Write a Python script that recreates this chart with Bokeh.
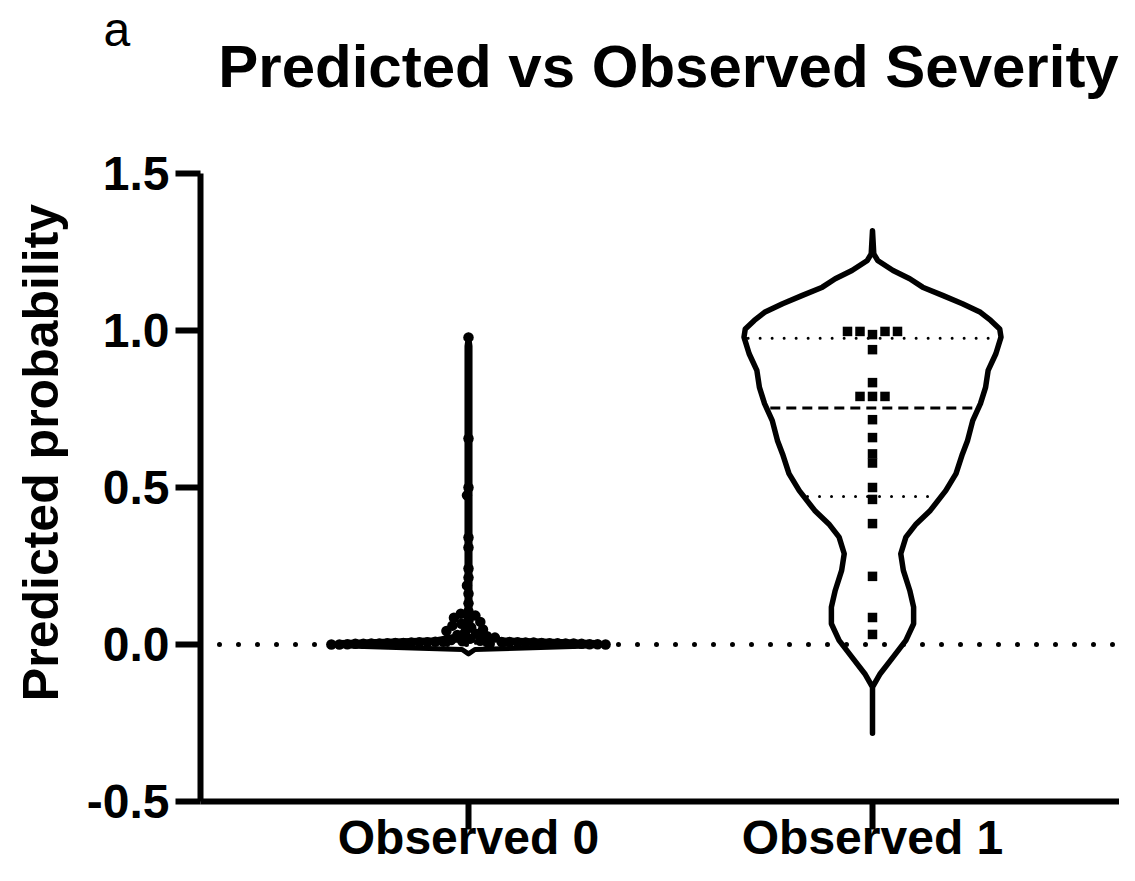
import math
import numpy as np
from bokeh.plotting import figure
from bokeh.models import Range1d, FixedTicker, Label
from bokeh.embed import file_html
from bokeh.resources import INLINE

# ---------------- data ----------------
categories = ["Observed 0", "Observed 1"]
y_ticks = [-0.5, 0.0, 0.5, 1.0, 1.5]
y_tick_labels = ["-0.5", "0.0", "0.5", "1.0", "1.5"]

# predicted probabilities, group "Observed 0" (listed from high to low)
obs0_values = [
    0.978, 0.656, 0.500, 0.475, 0.341, 0.309, 0.242, 0.213, 0.188, 0.162, 0.131,
    0.105, 0.098, 0.092, 0.085, 0.078, 0.072, 0.066, 0.060, 0.054, 0.048,
    0.043, 0.038, 0.034, 0.030, 0.026, 0.022, 0.018, 0.014, 0.012,
    0.010, 0.009, 0.009, 0.008, 0.008, 0.007, 0.007, 0.007, 0.006, 0.006,
    0.006, 0.005, 0.005, 0.005, 0.004, 0.004, 0.004, 0.003,
    0.003, 0.003, 0.003, 0.002, 0.002, 0.002, 0.002, 0.001, 0.001,
    0.001, 0.000, 0.000, 0.000,
]

# predicted probabilities, group "Observed 1"
obs1_values = [
    0.987, 0.997, 0.997, 0.997, 0.997, 0.939, 0.834, 0.790, 0.790, 0.790,
    0.716, 0.659, 0.607, 0.578, 0.500, 0.462, 0.385, 0.217, 0.086, 0.032,
]

# violin outlines: probability level and relative density (1 = widest)
violin1_y = [1.318, 1.244, 1.223, 1.191, 1.165, 1.138, 1.111, 1.085, 1.058, 1.032,
             1.005, 0.979, 0.926, 0.873, 0.819, 0.767, 0.713, 0.650, 0.607, 0.544,
             0.490, 0.427, 0.384, 0.342, 0.289, 0.236, 0.172, 0.119, 0.066, 0.013,
             -0.040, -0.093, -0.136, -0.283]
violin1_density = [0.00, 0.01, 0.04, 0.16, 0.29, 0.39, 0.55, 0.70, 0.84, 0.92,
                   0.99, 1.00, 0.96, 0.90, 0.88, 0.84, 0.78, 0.74, 0.70, 0.65,
                   0.57, 0.45, 0.34, 0.26, 0.22, 0.24, 0.29, 0.32, 0.32, 0.26,
                   0.16, 0.06, 0.00, 0.00]

violin0_y = [0.985, 0.95, 0.12, 0.05, 0.03, 0.015, 0.006, -0.004, -0.010, -0.016, -0.030]
violin0_density = [0.0, 0.012, 0.012, 0.02, 0.05, 0.25, 1.0, 1.0, 0.5, 0.05, 0.0]

# ---------------- layout (pixel geometry of the page) ----------------
W, H = 1119, 865
X_PX = 404.0            # pixels per category step
Y_PX = 314.0            # pixels per probability unit
CAT0_PX = 468.0         # horizontal pixel of the first category
ZERO_PX = 644.0         # vertical pixel of probability 0
AXIS_LEFT_PX = 200.0    # pixel column of the y axis

x_start = -CAT0_PX / X_PX
x_end = (W - CAT0_PX) / X_PX
y_start = -(H - ZERO_PX) / Y_PX
y_end = ZERO_PX / Y_PX
axis_x = x_start + AXIS_LEFT_PX / X_PX

FONT = "Liberation Sans"
BLACK = "#000000"

p = figure(width=W, height=H,
           x_range=Range1d(x_start, x_end), y_range=Range1d(y_start, y_end),
           output_backend="svg", toolbar_location=None)
p.min_border = 0
p.outline_line_color = None
p.xgrid.visible = False
p.ygrid.visible = False
p.background_fill_color = "white"
p.border_fill_color = "white"

# y axis
yax = p.yaxis[0]
yax.fixed_location = axis_x
yax.bounds = (y_ticks[0], y_ticks[-1])
yax.ticker = FixedTicker(ticks=y_ticks)
yax.major_label_overrides = {t: s for t, s in zip(y_ticks, y_tick_labels)}
yax.axis_line_width = 6
yax.axis_line_color = BLACK
yax.major_tick_line_width = 6
yax.major_tick_line_color = BLACK
yax.major_tick_out = 25
yax.major_tick_in = 0
yax.minor_tick_out = 0
yax.minor_tick_in = 0
yax.major_label_standoff = 6
yax.major_label_text_font = FONT
yax.major_label_text_font_style = "bold"
yax.major_label_text_font_size = "48px"
yax.major_label_text_color = BLACK

# x axis
xax = p.xaxis[0]
xax.fixed_location = y_ticks[0]
xax.bounds = (axis_x, x_end)
xax.ticker = FixedTicker(ticks=list(range(len(categories))))
xax.major_label_overrides = {i: c for i, c in enumerate(categories)}
xax.axis_line_width = 6
xax.axis_line_color = BLACK
xax.major_tick_line_width = 6
xax.major_tick_line_color = BLACK
xax.major_tick_out = 28
xax.major_tick_in = 0
xax.minor_tick_out = 0
xax.minor_tick_in = 0
xax.major_label_standoff = -19
xax.major_label_text_font = FONT
xax.major_label_text_font_style = "bold"
xax.major_label_text_font_size = "48px"
xax.major_label_text_color = BLACK


# ---------------- helpers ----------------
def swarm(values, d_px, box_w=None):
    """simple beeswarm: returns x offsets in pixels"""
    placed = []
    out = []
    for v in values:
        y = v * Y_PX
        cands = [0.0]
        for (px, py) in placed:
            dy = abs(y - py)
            if box_w is not None:
                if dy < d_px:
                    cands += [px - box_w, px + box_w]
            elif dy < d_px:
                w = math.sqrt(d_px * d_px - dy * dy)
                cands += [px - w, px + w]
        cands.sort(key=abs)
        chosen = cands[-1]
        for c in cands:
            ok = True
            for (px, py) in placed:
                if box_w is not None:
                    if abs(c - px) < box_w - 1e-6 and abs(y - py) < d_px:
                        ok = False
                        break
                elif (c - px) ** 2 + (y - py) ** 2 < d_px * d_px - 1e-6:
                    ok = False
                    break
            if ok:
                chosen = c
                break
        placed.append((chosen, y))
        out.append(chosen)
    return np.array(out)


def quartiles(vals):
    s = np.sort(np.asarray(vals, dtype=float))
    n = len(s)
    res = []
    for q in (0.25, 0.5, 0.75):
        pos = q * (n + 1) - 1
        lo = max(int(math.floor(pos)), 0)
        hi = min(lo + 1, n - 1)
        frac = pos - math.floor(pos)
        res.append(s[lo] + frac * (s[hi] - s[lo]))
    return res


MAX_HW = 128.5 / X_PX      # widest half-width of a violin (data units)


def draw_violin(center, vy, dens, vals, line_w):
    vy = np.asarray(vy, dtype=float)
    hw = np.asarray(dens, dtype=float) * MAX_HW
    xs = np.concatenate([center + hw, (center - hw)[::-1]])
    ys = np.concatenate([vy, vy[::-1]])
    p.patch(xs, ys, fill_color="white", line_color=BLACK, line_width=line_w,
            line_join="round")
    q1, med, q3 = quartiles(vals)
    asc_y = vy[::-1]
    asc_d = np.asarray(dens, dtype=float)[::-1]
    inset = (line_w / 2.0 + 1) / X_PX
    for q, dash, lw, cap in ((q1, "0 12", 3, "round"), (q3, "0 12", 3, "round"),
                             (med, "10 6", 3, "butt")):
        w = float(np.interp(q, asc_y, asc_d)) * MAX_HW - inset
        if w <= 0:
            continue
        p.segment(x0=[center - w], y0=[q], x1=[center + w], y1=[q],
                  line_color=BLACK, line_width=lw, line_dash=dash, line_cap=cap)


# ---------------- violins ----------------
draw_violin(0, violin0_y, violin0_density, obs0_values, 5)
draw_violin(1, violin1_y, violin1_density, obs1_values, 5.5)

# zero reference line, from the y axis to the right edge
p.segment(x0=[axis_x], y0=[0], x1=[x_end], y1=[0], line_color=BLACK,
          line_width=5, line_dash="0 19", line_cap="round")

# ---------------- points ----------------
off0 = swarm(obs0_values, 8.0) / X_PX
p.scatter(x=0 + off0, y=obs0_values, marker="circle", size=10.5,
          fill_color=BLACK, line_color=BLACK, line_width=0)

off1 = swarm(obs1_values, 9.0, box_w=12.5) / X_PX
p.scatter(x=1 + off1, y=obs1_values, marker="square", size=9.5,
          fill_color=BLACK, line_color=BLACK, line_width=0)

# ---------------- texts (screen units: from the bottom-left corner) ----------------
def scr_y(px_from_top):
    return H - px_from_top


p.add_layout(Label(x=103, y=scr_y(29), x_units="screen", y_units="screen", text="a",
                   text_font=FONT, text_font_size="48px", text_color=BLACK,
                   text_align="left", text_baseline="alphabetic"))
p.add_layout(Label(x=668, y=scr_y(66), x_units="screen", y_units="screen",
                   text="Predicted vs Observed Severity",
                   text_font=FONT, text_font_style="bold", text_font_size="60px",
                   text_color=BLACK, text_align="center", text_baseline="alphabetic"))
p.add_layout(Label(x=40, y=scr_y(452), x_units="screen", y_units="screen",
                   angle=math.pi / 2, text="Predicted probability",
                   text_font=FONT, text_font_style="bold", text_font_size="50px",
                   text_color=BLACK, text_align="center", text_baseline="alphabetic"))

open("out.html", "w").write(file_html(p, INLINE))
